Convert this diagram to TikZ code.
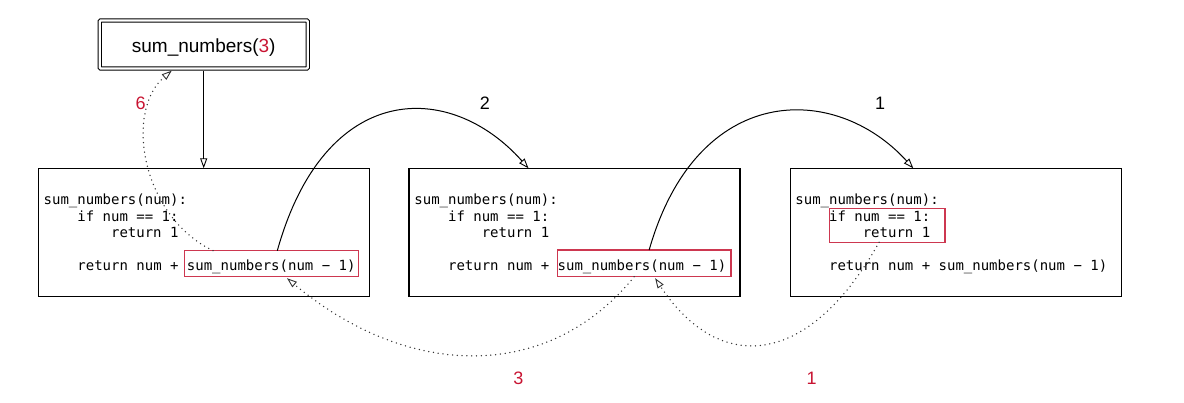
\documentclass[tikz,border=0pt]{standalone}
\usepackage{fontspec}
\setmainfont{Liberation Sans}
\newfontfamily\codefont{DejaVu Sans Mono}
\usetikzlibrary{arrows.meta,calc}
\definecolor{crimson}{RGB}{200,20,50}
\definecolor{boxred}{RGB}{205,55,80}
\begin{document}
\begin{tikzpicture}[x=1pt,y=-1pt,
  tip/.style={-{Triangle[open,length=10pt,width=7pt,line width=0.9pt]}},
  bigbox/.style={draw, line width=1.3pt, minimum width=331pt, minimum height=128pt, anchor=north west, inner sep=0pt, outer sep=0pt},
  redbox/.style={draw=boxred, line width=1.2pt, anchor=north west, inner sep=0pt, outer sep=0pt},
  topbox/.style={draw, double, double distance=2.2pt, line width=1.1pt, minimum width=208pt, minimum height=48pt, inner sep=0pt, outer sep=0pt, text height=19.5pt, text depth=3.5pt, rounded corners=1pt, font=\fontsize{19}{22}\selectfont},
  code/.style={font={\codefont\fontsize{14}{16}\selectfont}, anchor=base west, inner sep=0pt},
  lbl/.style={font=\fontsize{18}{21}\selectfont, inner sep=0pt},
  solidconn/.style={line width=1pt, tip},
  dotconn/.style={line width=1.5pt, dash pattern=on 0pt off 4.8pt, line cap=round, draw=black!80, tip}
]
\useasboundingbox (0,0) rectangle (1184,403);

% top box
\node[topbox] (t) at (203.7,44.5) {sum\_numbers(\textcolor{crimson}{3})};

% big boxes
\node[bigbox] (b1) at (38.3,168.3) {};
\node[bigbox] (b2) at (409,168.3) {};
\node[bigbox] (b3) at (790.5,168.3) {};

% red boxes
\node[redbox, minimum width=174pt, minimum height=26pt] (r1) at (184.3,250.7) {};
\node[redbox, minimum width=173.7pt, minimum height=26.7pt] (r2) at (557.3,250) {};
\node[redbox, minimum width=115.7pt, minimum height=34pt] (r3) at (829.3,208.3) {};

% code, box 1
\node[code] (c1a) at (43.5,205) {sum\_numbers(num):};
\node[code] (c1b) at (77.2,221.3) {if num == 1:};
\node[code] (c1c) at (110.9,237.3) {return 1};
\node[code] (c1d) at (77.2,270.7) {return num + sum\_numbers(num − 1)};
% code, box 2
\node[code] (c2a) at (414.2,205) {sum\_numbers(num):};
\node[code] (c2b) at (447.9,221.3) {if num == 1:};
\node[code] (c2c) at (481.6,237.3) {return 1};
\node[code] (c2d) at (447.9,270.7) {return num + sum\_numbers(num − 1)};
% code, box 3
\node[code] (c3a) at (795.2,205) {sum\_numbers(num):};
\node[code] (c3b) at (828.9,221.3) {if num == 1:};
\node[code] (c3c) at (862.6,237.3) {return 1};
\node[code] (c3d) at (828.9,270.7) {return num + sum\_numbers(num − 1)};

% labels
\node[lbl] (l2) at (485,103.3) {2};
\node[lbl] (l1) at (880,103.3) {1};
\node[lbl, text=crimson] (l6) at (140.7,103.3) {6};
\node[lbl, text=crimson] (l3) at (518.3,378.3) {3};
\node[lbl, text=crimson] (l1b) at (811.7,378.3) {1};

% connectors
\draw[solidconn] ([yshift=-2.2pt]t.south) -- (t.south |- b1.north);
\draw[solidconn] ([xshift=6pt]r1.north) .. controls (325,80) and (450,80) .. ([xshift=119.5pt]b2.north west);
\draw[solidconn] ([xshift=5pt]r2.north) .. controls (697,82) and (835,82) .. ([xshift=122.8pt]b3.north west);
\draw[dotconn] ([xshift=28.7pt]r1.north west) .. controls (140,215) and (125,110) .. ([xshift=-32pt,yshift=-2.2pt]t.south);
\draw[dotconn] ([xshift=-10pt]r2.south) .. controls (550,381) and (410,381) .. ([xshift=15.7pt,yshift=-1.5pt]r1.south);
\draw[dotconn] ([xshift=-8pt]r3.south) .. controls (806,372) and (717,372) .. ([xshift=11pt,yshift=-1.5pt]r2.south);
\end{tikzpicture}
\end{document}
